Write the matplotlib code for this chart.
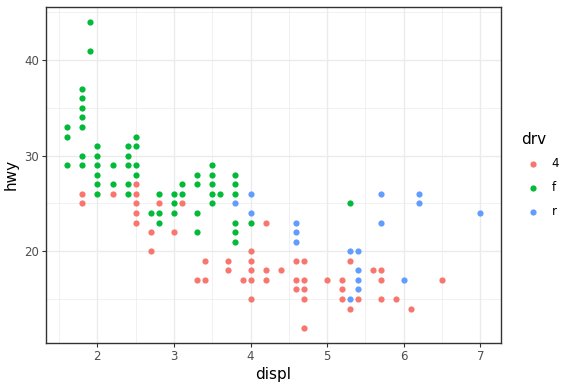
import numpy as np
import matplotlib.pyplot as plt

# points (unique displ/hwy per drive type)
displ_4 = [1.8, 1.8, 2.2, 2.5, 2.5, 2.5, 2.5, 2.5, 2.7, 2.7, 2.8, 3.0, 3.1,
           3.3, 3.4, 3.4, 3.7, 3.7, 3.9, 4.0, 4.0, 4.0, 4.0, 4.0,
           4.2, 4.2, 4.2, 4.4, 4.6, 4.6, 4.6, 4.7, 4.7, 4.7, 4.7, 4.7,
           5.0, 5.2, 5.2, 5.2, 5.3, 5.3, 5.4, 5.6, 5.7, 5.7, 5.7, 5.9,
           6.1, 6.5]
hwy_4 = [26, 25, 26, 27, 26, 25, 24, 23, 22, 20, 25, 22, 25,
         17, 19, 17, 19, 18, 17, 20, 19, 18, 17, 15,
         23, 18, 17, 18, 19, 17, 16, 19, 17, 16, 15, 12,
         17, 17, 16, 15, 19, 14, 15, 18, 18, 17, 15, 15,
         14, 17]

displ_f = [1.6, 1.6, 1.6, 1.8, 1.8, 1.8, 1.8, 1.8, 1.8, 1.8, 1.9, 1.9,
           2.0, 2.0, 2.0, 2.0, 2.0, 2.0, 2.2, 2.2,
           2.4, 2.4, 2.4, 2.4, 2.4, 2.5, 2.5, 2.5, 2.5,
           2.7, 2.8, 2.8, 2.8, 3.0, 3.0, 3.0, 3.1, 3.1,
           3.3, 3.3, 3.3, 3.3, 3.5, 3.5, 3.5, 3.5, 3.5, 3.6,
           3.8, 3.8, 3.8, 3.8, 3.8, 3.8, 4.0, 5.3]
hwy_f = [33, 32, 29, 37, 36, 35, 34, 33, 30, 29, 44, 41,
         31, 30, 29, 28, 27, 26, 29, 27,
         31, 30, 29, 27, 26, 32, 31, 29, 28,
         24, 26, 24, 23, 26, 25, 24, 27, 26,
         28, 27, 24, 22, 29, 28, 27, 26, 25, 26,
         28, 27, 26, 23, 22, 21, 23, 25]

displ_r = [3.8, 4.0, 4.0, 4.6, 4.6, 4.6, 5.3, 5.3, 5.4, 5.4, 5.4, 5.4,
           5.7, 5.7, 6.0, 6.2, 6.2, 7.0]
hwy_r = [25, 26, 24, 23, 22, 21, 20, 15, 20, 18, 17, 16,
         26, 23, 17, 26, 25, 24]

series = [("4", displ_4, hwy_4, "#F8766D"),
          ("f", displ_f, hwy_f, "#00BA38"),
          ("r", displ_r, hwy_r, "#619CFF")]

fig = plt.figure(figsize=(5.74, 3.88), dpi=100)
ax = fig.add_axes([0.080, 0.116, 0.793, 0.867])

for name, x, y, col in series:
    ax.scatter(x, y, s=20, color=col, linewidths=0, label=name, zorder=3)

ax.set_xlim(1.33, 7.27)
ax.set_ylim(10.4, 45.6)
ax.set_xticks([2, 3, 4, 5, 6, 7])
ax.set_yticks([20, 30, 40])
ax.set_xticks(np.arange(1.5, 7.3, 1.0), minor=True)
ax.set_yticks([15, 25, 35, 45], minor=True)

ax.grid(True, which="major", color="#EBEBEB", linewidth=1.0, zorder=0)
ax.grid(True, which="minor", color="#EBEBEB", linewidth=0.5, zorder=0)
ax.set_axisbelow(True)
ax.tick_params(which="minor", length=0)
ax.tick_params(which="major", length=3, width=0.8, color="#333333",
               labelsize=8.5, labelcolor="#4D4D4D", pad=2)
for sp in ax.spines.values():
    sp.set_color("#333333")
    sp.set_linewidth(1.0)

ax.set_xlabel("displ", fontsize=11, labelpad=3)
ax.set_ylabel("hwy", fontsize=11, labelpad=4)

leg = ax.legend(title="drv", loc="center left", bbox_to_anchor=(1.02, 0.5),
                frameon=False, fontsize=8.5, title_fontsize=11,
                handletextpad=0.6, labelspacing=0.9, markerscale=1.0,
                alignment="left")

fig.savefig("out.png", dpi=100)
